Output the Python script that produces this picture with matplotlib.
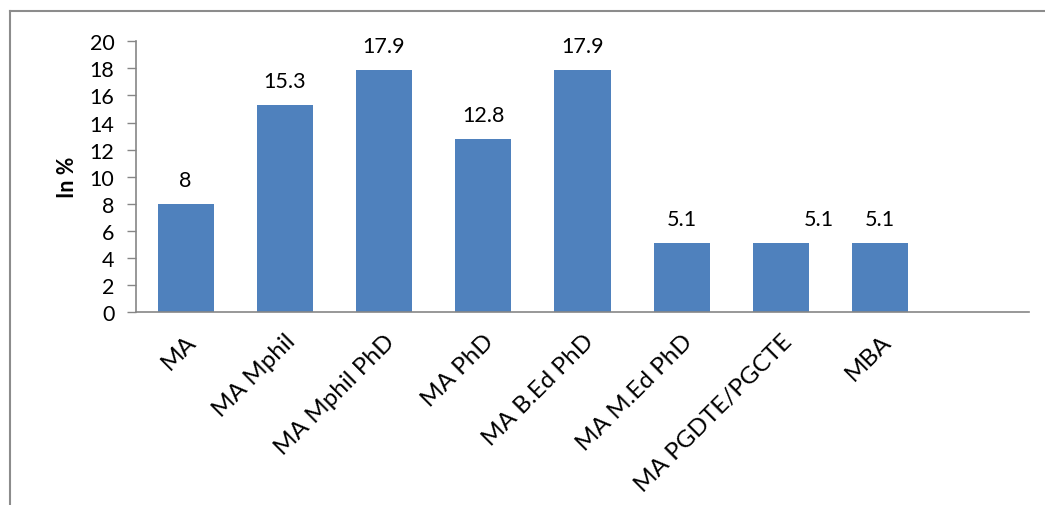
import numpy as np
import matplotlib.pyplot as plt
from matplotlib.lines import Line2D

plt.rcParams['font.family'] = ['Lato', 'DejaVu Sans']

# qualification groups and share of respondents
qualifications = ['MA', 'MA Mphil', 'MA Mphil PhD', 'MA PhD', 'MA B.Ed PhD',
                  'MA M.Ed PhD', 'MA PGDTE/PGCTE', 'MBA']
percent = [8, 15.3, 17.9, 12.8, 17.9, 5.1, 5.1, 5.1]
# horizontal nudge of each value label, in points
label_shift = [0, 0, 0, 0, 0, 0, 27, 0]

axis_grey = '#868686'
fs = 15.5

fig = plt.figure(figsize=(10.45, 5.06), dpi=100)
ax = fig.add_axes([0.1301, 0.3814, 0.8546, 0.535])

x = np.arange(len(qualifications))
ax.bar(x, percent, width=0.565, color='#4F81BD', zorder=2)

for xi, val, dx in zip(x, percent, label_shift):
    ax.annotate(f'{val:g}', (xi, val), xytext=(dx, 17),
                textcoords='offset points', ha='center', va='center',
                fontsize=fs)

ax.set_xlim(-0.5, len(qualifications) + 0.5)
ax.set_ylim(0, 20)
ax.set_yticks(range(0, 21, 2))
ax.set_xticks(x)
ax.set_xticklabels(qualifications, rotation=45, ha='right',
                   rotation_mode='anchor', fontsize=17.5)
ax.tick_params(axis='y', labelsize=fs, length=6.5, width=1, color=axis_grey, pad=9)
ax.tick_params(axis='x', length=0, pad=13)

for side in ['top', 'right']:
    ax.spines[side].set_visible(False)
for side in ['left', 'bottom']:
    ax.spines[side].set_color(axis_grey)
    ax.spines[side].set_linewidth(1.2)

ax.set_ylabel('In %', fontsize=fs, fontweight='bold', labelpad=8)

# chart area border (top and left edges)
fig.add_artist(Line2D([10 / 1045, 10 / 1045], [0, 1 - 12 / 506],
                      transform=fig.transFigure, color='#8c8c8c', lw=1.5))
fig.add_artist(Line2D([10 / 1045, 1], [1 - 12 / 506, 1 - 12 / 506],
                      transform=fig.transFigure, color='#8c8c8c', lw=1.5))

fig.savefig('out.png', dpi=100)
